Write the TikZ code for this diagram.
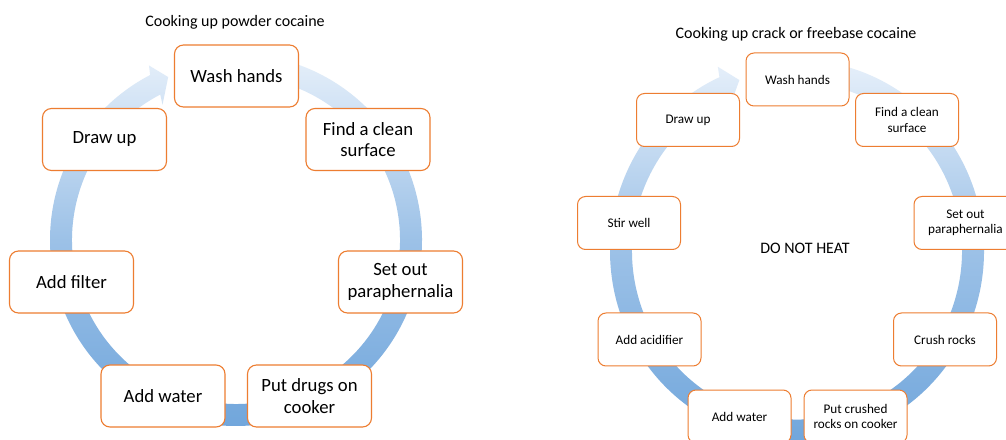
\documentclass[tikz,border=0pt]{standalone}
\usepackage{fontspec}
\setmainfont{Carlito}
\definecolor{boxorange}{HTML}{ED7D31}
\definecolor{ringtop}{HTML}{EAF2FB}
\definecolor{ringmid}{HTML}{9CC1E7}
\definecolor{ringbot}{HTML}{6FA5DB}
\tikzset{
  ringshade/.style={top color=ringtop, bottom color=ringbot, middle color=ringmid},
  bigbox/.style={draw=boxorange, line width=1.1pt, fill=white, rounded corners=9pt,
    minimum width=124pt, minimum height=62pt, inner sep=0pt, align=center,
    font=\fontsize{18.7}{21.5}\selectfont},
  smallbox/.style={draw=boxorange, line width=1pt, fill=white, rounded corners=8pt,
    minimum width=103pt, minimum height=53pt, inner sep=0pt, align=center,
    font=\fontsize{13.2}{15.2}\selectfont},
  titletext/.style={inner sep=0pt, font=\fontsize{16}{19}\selectfont}
}
\begin{document}
\begin{tikzpicture}[x=1pt,y=1pt]
\useasboundingbox (0,0) rectangle (1006,439);
\clip (0,0) rectangle (1006,439);
\fill[white] (0,0) rectangle (1006,439);

% ---------- left cycle ----------
\begin{scope}[shift={(236,199)}]
\shade[ringshade] (95:186) arc[start angle=95, end angle=-242.5, radius=186]
  -- (116.5:195) -- (112.6:176.5) -- (118.5:154) -- (-242.5:164)
  arc[start angle=-242.5, end angle=95, radius=164] -- cycle;
\end{scope}

\node[titletext] (ltitle) at (235,417) {Cooking up powder cocaine};
\node[bigbox] (lwash)   at (236.5,363)   {Wash hands};
\node[bigbox] (lfind)   at (368,299.5)   {Find a clean\\surface};
\node[bigbox] (lset)    at (400.5,157)   {Set out\\paraphernalia};
\node[bigbox] (lput)    at (309.5,43)    {Put drugs on\\cooker};
\node[bigbox] (lwater)  at (163,43)      {Add water};
\node[bigbox] (lfilter) at (71.5,157)    {Add filter};
\node[bigbox] (ldraw)   at (104.5,299.5) {Draw up};

% ---------- right cycle ----------
\begin{scope}[shift={(797,188)}, yscale=1.0214]
\shade[ringshade] (95:187) arc[start angle=95, end angle=-245.5, radius=187]
  -- (113.7:197) -- (109:177) -- (116:155) -- (-245.5:165)
  arc[start angle=-245.5, end angle=95, radius=165] -- cycle;
\end{scope}

\node[titletext] (rtitle) at (796,405) {Cooking up crack or freebase cocaine};
\node[titletext] (rwarn)  at (805,191) {DO NOT HEAT};
\node[smallbox] (rwash)  at (797.5,359.5) {Wash hands};
\node[smallbox] (rfind)  at (907,319)     {Find a clean\\surface};
\node[smallbox] (rset)   at (965.5,216)   {Set out\\paraphernalia};
\node[smallbox] (rcrush) at (945,99.5)    {Crush rocks};
\node[smallbox] (rput)   at (855.5,22.5)  {Put crushed\\rocks on cooker};
\node[smallbox] (rwater) at (739.5,22.5)  {Add water};
\node[smallbox] (racid)  at (649.5,99.5)  {Add acidifier};
\node[smallbox] (rstir)  at (629,216)     {Stir well};
\node[smallbox] (rdraw)  at (688,319)     {Draw up};
\end{tikzpicture}
\end{document}
